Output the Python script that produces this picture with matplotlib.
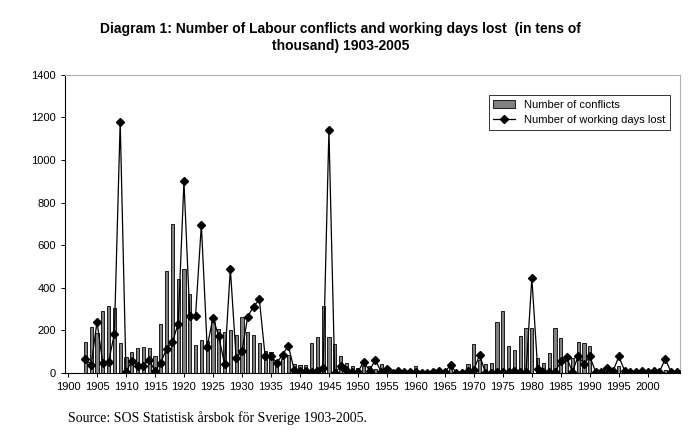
"""
Labour conflicts and working days lost in Sweden, 1903-2005.
"""

import matplotlib
matplotlib.use("Agg")
import matplotlib.pyplot as plt
import numpy as np

years = list(range(1903, 2006))

conflicts = [
    144, 218, 190, 293, 315, 304, 139, 75, 99, 117,      # 1903-1912
    121, 116, 80, 229, 479, 700, 443, 489, 373, 133,     # 1913-1922
    153, 149, 240, 207, 191, 204, 180, 265, 194, 180,    # 1923-1932
    141, 102, 97, 63, 67, 86, 42, 39, 36, 141,           # 1933-1942
    169, 316, 169, 138, 81, 47, 31, 23, 31, 31,          # 1943-1952
    20, 42, 20, 8, 13, 8, 11, 34, 8, 8,                  # 1953-1962
    20, 8, 12, 23, 8, 8, 41, 135, 63, 44,                # 1963-1972
    47, 238, 293, 125, 110, 175, 210, 210, 69, 47,       # 1973-1982
    94, 210, 163, 78, 70, 144, 141, 125, 10, 15,         # 1983-1992
    25, 10, 35, 8, 5, 5, 10, 10, 15, 10,                 # 1993-2002
    15, 5, 5,                                            # 2003-2005
]

days_lost = [
    66, 39, 240, 47, 52, 185, 1180, 3, 58, 33,           # 1903-1912
    33, 63, 8, 49, 113, 144, 232, 900, 269, 269,         # 1913-1922
    697, 122, 260, 172, 41, 489, 69, 102, 265, 312,      # 1923-1932
    346, 78, 81, 47, 86, 128, 16, 8, 8, 5,               # 1933-1942
    11, 22, 1140, 0, 31, 16, 5, 5, 53, 11,               # 1943-1952
    63, 5, 19, 0, 11, 5, 5, 5, 0, 0,                     # 1953-1962
    5, 8, 5, 38, 0, 0, 8, 16, 85, 0,                     # 1963-1972
    0, 5, 5, 5, 11, 5, 5, 446, 20, 5,                    # 1973-1982
    5, 5, 55, 75, 5, 81, 42, 78, 5, 5,                   # 1983-1992
    23, 8, 78, 11, 5, 5, 11, 3, 8, 5,                    # 1993-2002
    66, 5, 5,                                            # 2003-2005
]

plt.rcParams["font.family"] = ["Liberation Sans", "DejaVu Sans"]

fig = plt.figure(figsize=(7, 4.43), dpi=100)
ax = fig.add_axes([0.093, 0.158, 0.878, 0.673])

bars = ax.bar(years, conflicts, width=0.55, color="#808080", edgecolor="black",
              linewidth=0.6, label="Number of conflicts", zorder=2)
line, = ax.plot(years, days_lost, color="black", linewidth=0.9, marker="D",
                markersize=3.6, label="Number of working days lost", zorder=3)

ax.set_xlim(1899.5, 2005.5)
ax.set_ylim(0, 1400)
ax.set_xticks(np.arange(1900, 2005, 5))
ax.set_yticks(np.arange(0, 1401, 200))
ax.tick_params(axis="both", labelsize=8, length=3, width=0.7, direction="out")

for side in ["top", "right"]:
    ax.spines[side].set_color("#b0b0b0")
for side in ["left", "bottom"]:
    ax.spines[side].set_color("black")
    ax.spines[side].set_linewidth(0.8)

leg = ax.legend(handles=[bars, line], loc="upper right",
                bbox_to_anchor=(0.993, 0.95), fontsize=8,
                frameon=True, fancybox=False, borderpad=0.4,
                handlelength=2.0, labelspacing=0.5)
leg.get_frame().set_edgecolor("black")
leg.get_frame().set_linewidth(0.7)

fig.text(0.487, 0.915,
         "Diagram 1: Number of Labour conflicts and working days lost  (in tens of\nthousand) 1903-2005",
         ha="center", va="center", fontsize=10, fontweight="bold",
         linespacing=1.25)

fig.text(0.097, 0.057, "Source: SOS Statistisk årsbok för Sverige 1903-2005.",
         ha="left", va="center", fontsize=10, family=["Liberation Serif", "DejaVu Serif"])

fig.savefig("out.png", dpi=100)
